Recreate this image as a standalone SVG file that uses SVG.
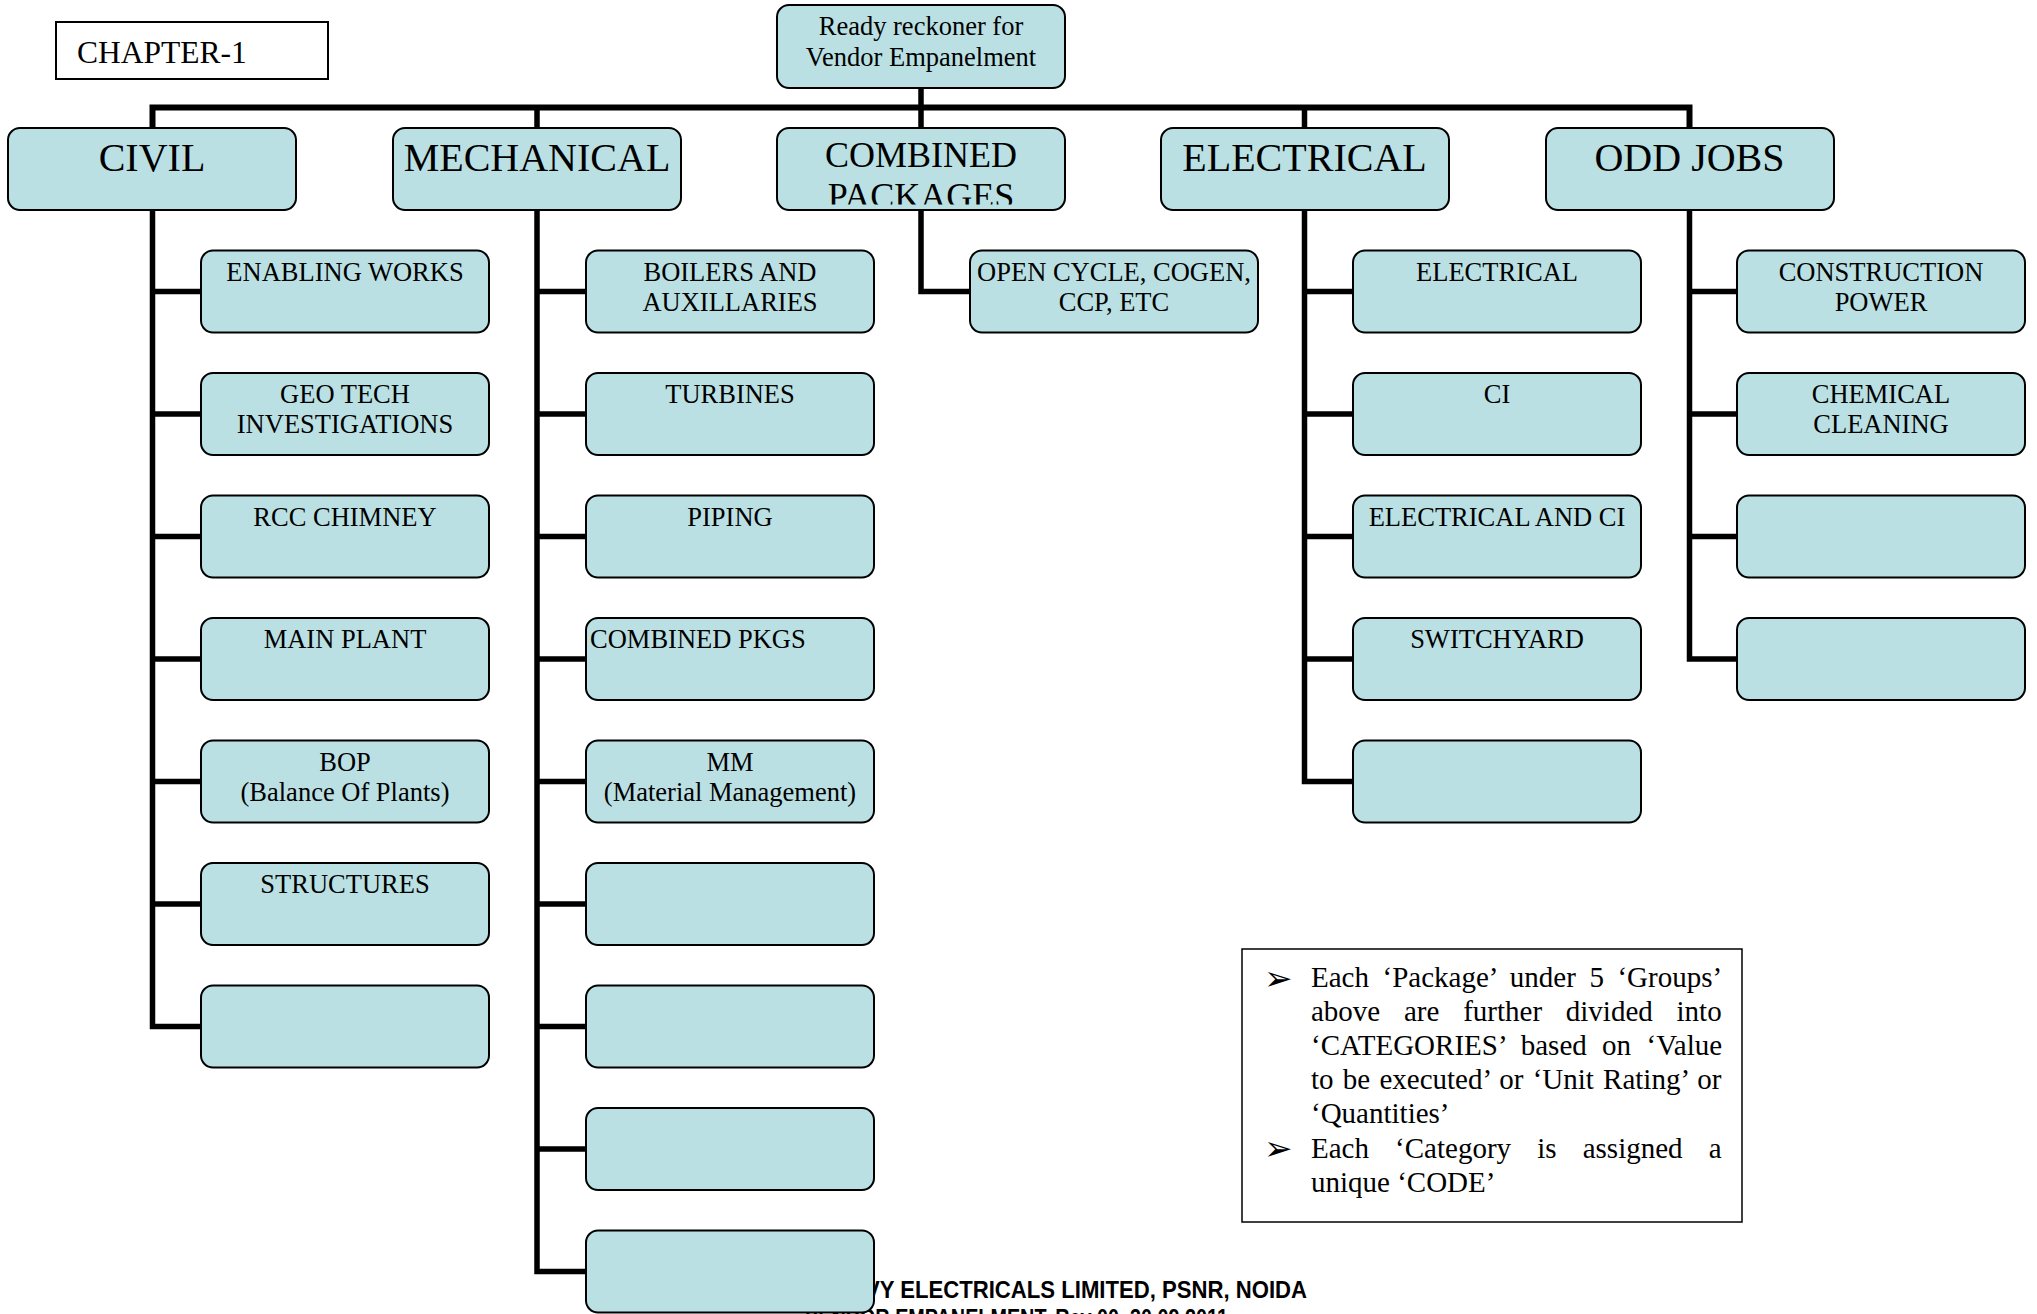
<svg xmlns="http://www.w3.org/2000/svg" width="2037" height="1314" viewBox="0 0 2037 1314">
<style>
.box{fill:#BAE0E3;stroke:#000;stroke-width:2}
.t{font-family:"Liberation Serif","Times New Roman",serif;fill:#000;text-anchor:middle}
.t26{font-size:26.5px}
.t40{font-size:40px}
.conn{fill:none;stroke:#000;stroke-width:5.5;stroke-linejoin:miter;stroke-linecap:butt}
.note{font-family:"Liberation Serif","Times New Roman",serif;font-size:29px;fill:#000}
.bul{font-family:"DejaVu Sans",sans-serif;font-size:34px;fill:#000}
.foot{font-family:"Liberation Sans",Arial,sans-serif;font-weight:bold;font-size:23px;fill:#000}
</style>
<defs>
<clipPath id="combClip"><rect x="777" y="128" width="288" height="76.5"/></clipPath>
</defs>
<rect width="2037" height="1314" fill="#fff"/>

<g id="connectors">
<path class="conn" d="M921 88 V128"/>
<path class="conn" d="M152.5 128 V107.5 H1689.5 V128" style="stroke-width:6"/>
<path class="conn" d="M537 107.5 V128 M1304.5 107.5 V128"/>
<path class="conn" d="M152.5 210 V1026.5 H201 M152.5 291.5 H201 M152.5 414 H201 M152.5 536.5 H201 M152.5 659 H201 M152.5 781.5 H201 M152.5 904 H201"/>
<path class="conn" d="M537 210 V1271.5 H586 M537 291.5 H586 M537 414 H586 M537 536.5 H586 M537 659 H586 M537 781.5 H586 M537 904 H586 M537 1026.5 H586 M537 1149 H586"/>
<path class="conn" d="M921 210 V291.5 H970"/>
<path class="conn" d="M1304.5 210 V781.5 H1353 M1304.5 291.5 H1353 M1304.5 414 H1353 M1304.5 536.5 H1353 M1304.5 659 H1353"/>
<path class="conn" d="M1689.5 210 V659 H1737 M1689.5 291.5 H1737 M1689.5 414 H1737 M1689.5 536.5 H1737"/>
</g>

<g id="footer">
<text class="foot" x="865" y="1298.3" textLength="442" lengthAdjust="spacingAndGlyphs">VY ELECTRICALS LIMITED, PSNR, NOIDA</text>
<text class="foot" x="805" y="1325.5" textLength="423" lengthAdjust="spacingAndGlyphs">VENDOR EMPANELMENT, Rev 00, 30.09.2011</text>
</g>

<g id="chapter">
<rect x="56" y="22" width="272" height="57" fill="#fff" stroke="#000" stroke-width="2"/>
<text x="77" y="62.7" style="font-family:'Liberation Serif','Times New Roman',serif;font-size:31.5px">CHAPTER-1</text>
</g>

<g id="root">
<rect class="box" x="777" y="5" width="288" height="83" rx="12"/>
<text class="t t26" x="921" y="34.5">Ready reckoner for</text>
<text class="t t26" x="921" y="65.5">Vendor Empanelment</text>
</g>

<g id="civil">
<rect class="box" x="8" y="128" width="288" height="82" rx="12"/>
<text class="t t40" x="152" y="170.5">CIVIL</text>
</g>
<g id="mechanical">
<rect class="box" x="393" y="128" width="288" height="82" rx="12"/>
<text class="t t40" x="537" y="170.5">MECHANICAL</text>
</g>
<g id="combined">
<rect class="box" x="777" y="128" width="288" height="82" rx="12"/>
<g clip-path="url(#combClip)">
<text class="t" style="font-size:36px" x="921" y="166.7">COMBINED</text>
<text class="t" style="font-size:36px" x="921" y="208">PACKAGES</text>
</g>
</g>
<g id="electrical">
<rect class="box" x="1161" y="128" width="288" height="82" rx="12"/>
<text class="t t40" x="1304.5" y="170.5">ELECTRICAL</text>
</g>
<g id="oddjobs">
<rect class="box" x="1546" y="128" width="288" height="82" rx="12"/>
<text class="t t40" x="1689.5" y="170.5">ODD JOBS</text>
</g>

<g id="civil-1"><rect class="box" x="201" y="250.5" width="288" height="82" rx="12"/><text class="t t26" x="345" y="280.5">ENABLING WORKS</text></g>
<g id="civil-2"><rect class="box" x="201" y="373" width="288" height="82" rx="12"/><text class="t t26" x="345" y="403">GEO TECH</text><text class="t t26" x="345" y="433">INVESTIGATIONS</text></g>
<g id="civil-3"><rect class="box" x="201" y="495.5" width="288" height="82" rx="12"/><text class="t t26" x="345" y="525.5">RCC CHIMNEY</text></g>
<g id="civil-4"><rect class="box" x="201" y="618" width="288" height="82" rx="12"/><text class="t t26" x="345" y="648">MAIN PLANT</text></g>
<g id="civil-5"><rect class="box" x="201" y="740.5" width="288" height="82" rx="12"/><text class="t t26" x="345" y="770.5">BOP</text><text class="t t26" x="345" y="800.5">(Balance Of Plants)</text></g>
<g id="civil-6"><rect class="box" x="201" y="863" width="288" height="82" rx="12"/><text class="t t26" x="345" y="893">STRUCTURES</text></g>
<g id="civil-7"><rect class="box" x="201" y="985.5" width="288" height="82" rx="12"/></g>

<g id="mech-1"><rect class="box" x="586" y="250.5" width="288" height="82" rx="12"/><text class="t t26" x="730" y="280.5">BOILERS AND</text><text class="t t26" x="730" y="310.5">AUXILLARIES</text></g>
<g id="mech-2"><rect class="box" x="586" y="373" width="288" height="82" rx="12"/><text class="t t26" x="730" y="403">TURBINES</text></g>
<g id="mech-3"><rect class="box" x="586" y="495.5" width="288" height="82" rx="12"/><text class="t t26" x="730" y="525.5">PIPING</text></g>
<g id="mech-4"><rect class="box" x="586" y="618" width="288" height="82" rx="12"/><text class="t t26" x="590" y="648" style="text-anchor:start">COMBINED PKGS</text></g>
<g id="mech-5"><rect class="box" x="586" y="740.5" width="288" height="82" rx="12"/><text class="t t26" x="730" y="770.5">MM</text><text class="t t26" x="730" y="800.5">(Material Management)</text></g>
<g id="mech-6"><rect class="box" x="586" y="863" width="288" height="82" rx="12"/></g>
<g id="mech-7"><rect class="box" x="586" y="985.5" width="288" height="82" rx="12"/></g>
<g id="mech-8"><rect class="box" x="586" y="1108" width="288" height="82" rx="12"/></g>
<g id="mech-9"><rect class="box" x="586" y="1230.5" width="288" height="82" rx="12"/></g>

<g id="comb-1"><rect class="box" x="970" y="250.5" width="288" height="82" rx="12"/><text class="t t26" x="1114" y="280.5">OPEN CYCLE, COGEN,</text><text class="t t26" x="1114" y="310.5">CCP, ETC</text></g>

<g id="elec-1"><rect class="box" x="1353" y="250.5" width="288" height="82" rx="12"/><text class="t t26" x="1497" y="280.5">ELECTRICAL</text></g>
<g id="elec-2"><rect class="box" x="1353" y="373" width="288" height="82" rx="12"/><text class="t t26" x="1497" y="403">CI</text></g>
<g id="elec-3"><rect class="box" x="1353" y="495.5" width="288" height="82" rx="12"/><text class="t t26" x="1497" y="525.5">ELECTRICAL AND CI</text></g>
<g id="elec-4"><rect class="box" x="1353" y="618" width="288" height="82" rx="12"/><text class="t t26" x="1497" y="648">SWITCHYARD</text></g>
<g id="elec-5"><rect class="box" x="1353" y="740.5" width="288" height="82" rx="12"/></g>

<g id="odd-1"><rect class="box" x="1737" y="250.5" width="288" height="82" rx="12"/><text class="t t26" x="1881" y="280.5">CONSTRUCTION</text><text class="t t26" x="1881" y="310.5">POWER</text></g>
<g id="odd-2"><rect class="box" x="1737" y="373" width="288" height="82" rx="12"/><text class="t t26" x="1881" y="403">CHEMICAL</text><text class="t t26" x="1881" y="433">CLEANING</text></g>
<g id="odd-3"><rect class="box" x="1737" y="495.5" width="288" height="82" rx="12"/></g>
<g id="odd-4"><rect class="box" x="1737" y="618" width="288" height="82" rx="12"/></g>

<g id="note">
<rect x="1242" y="949" width="500" height="273" fill="#fff" stroke="#000" stroke-width="1.5"/>
<text class="bul" x="1264" y="990">➢</text>
<text class="bul" x="1264" y="1160">➢</text>
<text class="note" x="1311" y="986.5" style="word-spacing:6.3px">Each ‘Package’ under 5 ‘Groups’</text>
<text class="note" x="1311" y="1020.7" style="word-spacing:16.5px">above are further divided into</text>
<text class="note" x="1311" y="1054.9" style="word-spacing:8.1px">‘CATEGORIES’ based on ‘Value</text>
<text class="note" x="1311" y="1089.1" style="word-spacing:2px">to be executed’ or ‘Unit Rating’ or</text>
<text class="note" x="1311" y="1123.3">‘Quantities’</text>
<text class="note" x="1311" y="1157.5" style="word-spacing:18.9px">Each ‘Category is assigned a</text>
<text class="note" x="1311" y="1191.7">unique ‘CODE’</text>
</g>
</svg>
